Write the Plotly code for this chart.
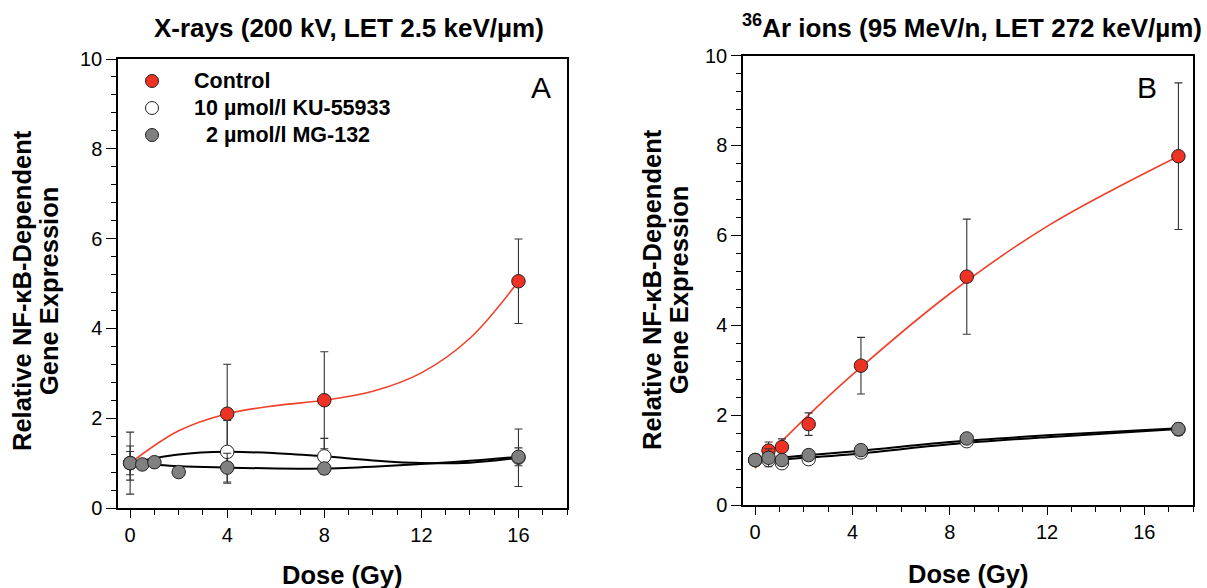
import plotly.graph_objects as go

W, H = 1207, 588

# ---------------- Panel A : X-rays ----------------
a_dose_ctrl = [0, 4, 8, 16]
a_ctrl = [1.0, 2.1, 2.4, 5.05]
a_ctrl_err = [0.69, 1.1, 1.08, 0.94]

a_dose_ku = [0, 4, 8, 16]
a_ku = [1.0, 1.25, 1.15, 1.12]
a_ku_err = [0.38, 0.7, 0.4, 0.64]

a_dose_mg = [0, 0.5, 1, 2, 4, 8, 16]
a_mg = [1.0, 0.97, 1.02, 0.8, 0.9, 0.88, 1.14]
a_mg_err = [0.26, 0.1, 0.05, 0.1, 0.32, 0.08, 0.2]

# fitted curves
a_fit_x = [0, 2, 4, 6, 8, 10, 12, 14, 16]
a_fit_ctrl = [1.0, 1.72, 2.1, 2.28, 2.4, 2.6, 3.01, 3.78, 5.05]
a_fit_ku = [1.0, 1.19, 1.25, 1.22, 1.15, 1.06, 1.0, 1.01, 1.12]
a_fit_mg = [1.0, 0.93, 0.9, 0.88, 0.88, 0.92, 0.98, 1.05, 1.14]

# ---------------- Panel B : 36Ar ions ----------------
b_dose = [0, 0.55, 1.1, 2.2, 4.35, 8.7, 17.4]
b_ctrl = [1.0, 1.21, 1.29, 1.8, 3.1, 5.08, 7.76]
b_ctrl_err = [0.05, 0.19, 0.18, 0.25, 0.63, 1.28, 1.63]
b_ku = [1.0, 1.0, 0.93, 1.02, 1.17, 1.42, 1.68]
b_ku_err = [0.06, 0.1, 0.08, 0.1, 0.08, 0.1, 0.12]
b_mg = [1.0, 1.05, 1.0, 1.11, 1.22, 1.48, 1.69]
b_mg_err = [0.08, 0.2, 0.07, 0.1, 0.06, 0.08, 0.13]

b_fit_x = [0, 2, 4, 8, 12, 17.4]
b_fit_ctrl = [0.82, 1.9, 2.9, 4.7, 6.2, 7.76]
b_fit_ku = [0.96, 1.05, 1.13, 1.35, 1.51, 1.69]
b_fit_mg = [1.0, 1.1, 1.19, 1.40, 1.55, 1.71]

x_ticks = [0, 4, 8, 12, 16]
y_ticks = [0, 2, 4, 6, 8, 10]

legend_labels = ["Control", "10 µmol/l KU-55933", "\u00a0\u00a02 µmol/l MG-132"]

RED = "#ee3224"
REDLINE = "#f0402c"
GRAY = "#808080"
WHITE = "#ffffff"
ERRC = "#333333"
FONT = "Liberation Sans, Arial, sans-serif"

fig = go.Figure()


def add_fit(x, y, color, width, xa, ya):
    fig.add_trace(go.Scatter(x=x, y=y, mode="lines",
                             line=dict(color=color, width=width, shape="spline", smoothing=1.0),
                             xaxis=xa, yaxis=ya, showlegend=False, hoverinfo="skip"))


def add_pts(x, y, err, color, xa, ya):
    fig.add_trace(go.Scatter(x=x, y=y, mode="markers",
                             marker=dict(size=13.5, color=color, line=dict(color="#222222", width=1)),
                             error_y=dict(type="data", array=err, visible=True,
                                          color=ERRC, thickness=1.1, width=4),
                             xaxis=xa, yaxis=ya, showlegend=False))


# panel A
add_fit(a_fit_x, a_fit_ctrl, REDLINE, 1.6, "x", "y")
add_fit(a_fit_x, a_fit_ku, "#000000", 2.0, "x", "y")
add_fit(a_fit_x, a_fit_mg, "#000000", 2.0, "x", "y")
add_pts(a_dose_ctrl, a_ctrl, a_ctrl_err, RED, "x", "y")
add_pts(a_dose_ku, a_ku, a_ku_err, WHITE, "x", "y")
add_pts(a_dose_mg, a_mg, a_mg_err, GRAY, "x", "y")

# panel B
add_fit(b_fit_x, b_fit_ctrl, REDLINE, 1.6, "x2", "y2")
add_fit(b_fit_x, b_fit_ku, "#000000", 2.0, "x2", "y2")
add_fit(b_fit_x, b_fit_mg, "#000000", 2.0, "x2", "y2")
add_pts(b_dose, b_ctrl, b_ctrl_err, RED, "x2", "y2")
add_pts(b_dose, b_ku, b_ku_err, WHITE, "x2", "y2")
add_pts(b_dose, b_mg, b_mg_err, GRAY, "x2", "y2")


def xax(domain, anchor):
    return dict(domain=domain, anchor=anchor, range=[-0.5, 18], tickvals=x_ticks,
                ticks="outside", ticklen=8, tickwidth=1.3, tickcolor="#000",
                minor=dict(dtick=1, tick0=0, ticks="outside", ticklen=5, tickwidth=1.1, tickcolor="#000"),
                showline=True, linewidth=1.5, linecolor="#000", mirror=True,
                showgrid=False, zeroline=False, automargin=False,
                tickfont=dict(family=FONT, size=20, color="#000"))


def yax(domain, anchor):
    return dict(domain=domain, anchor=anchor, range=[0, 10], tickvals=y_ticks,
                ticks="outside", ticklen=10, tickwidth=1.3, tickcolor="#000",
                minor=dict(dtick=0.4, tick0=0, ticks="outside", ticklen=5, tickwidth=1.1, tickcolor="#000"),
                showline=True, linewidth=1.5, linecolor="#000", mirror=True,
                showgrid=False, zeroline=False, automargin=False,
                tickfont=dict(family=FONT, size=20, color="#000"))


fig.update_layout(
    width=W, height=H,
    margin=dict(l=0, r=0, t=0, b=0, autoexpand=False),
    paper_bgcolor="white", plot_bgcolor="white",
    xaxis=xax([118 / W, 567 / W], "y"),
    yaxis=yax([1 - 508 / H, 1 - 59 / H], "x"),
    xaxis2=xax([743 / W, 1193 / W], "y2"),
    yaxis2=yax([1 - 505 / H, 1 - 55.5 / H], "x2"),
    showlegend=False,
)

ann = []


def txt(x, y, text, size, bold=True, angle=0, xanchor="center", yanchor="middle"):
    ann.append(dict(x=x / W, y=1 - y / H, xref="paper", yref="paper", text=("<b>%s</b>" % text) if bold else text,
                    showarrow=False, textangle=angle, xanchor=xanchor, yanchor=yanchor,
                    font=dict(family=FONT, size=size, color="#000")))


txt(349, 28, "X-rays (200 kV, LET 2.5 keV/µm)", 26)
txt(972, 27, "<sup>36</sup>Ar ions (95 MeV/n, LET 272 keV/µm)", 26)
for cx, cy in [(22, 291), (652, 290)]:
    txt(cx, cy, "Relative NF-κB-Dependent", 25.5, angle=-90)
    txt(cx + 27, cy, "Gene Expression", 25.5, angle=-90)
txt(342, 575, "Dose (Gy)", 25.5)
txt(968, 574, "Dose (Gy)", 25.5)
txt(541, 87, "A", 30, bold=False)
txt(1147, 87, "B", 30, bold=False)

shapes = []
leg_y = [81, 108, 135]
leg_col = [RED, WHITE, GRAY]
for lab, ly, col in zip(legend_labels, leg_y, leg_col):
    txt(192, ly, lab, 21.5, xanchor="left")
    r = 6.5
    shapes.append(dict(type="circle", xref="paper", yref="paper",
                       x0=(152 - r) / W, x1=(152 + r) / W, y0=1 - (ly + r) / H, y1=1 - (ly - r) / H,
                       fillcolor=col, line=dict(color="#222222", width=1)))

fig.update_layout(annotations=ann, shapes=shapes)
fig.write_html("out.html", config={"displayModeBar": False},
               post_script="document.body.style.margin='0px';")
